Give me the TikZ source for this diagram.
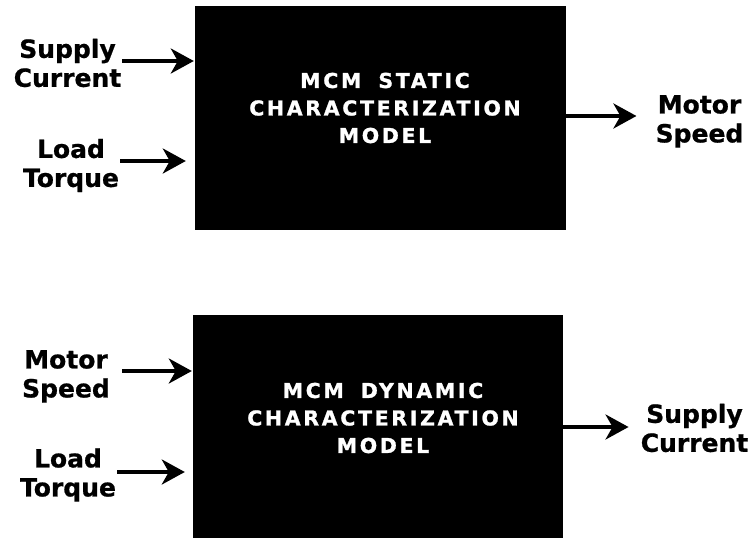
\documentclass[tikz,border=0pt]{standalone}
\usepackage{fontspec}
\setmainfont{DejaVu Sans}
\newfontfamily\boxfont[LetterSpace=13,FakeBold=1.2]{DejaVu Sans Bold}
\newfontfamily\labfont[FakeBold=0.8]{DejaVu Sans Bold}
\usetikzlibrary{arrows.meta}
\tikzset{
  blackbox/.style={fill=black, draw=none, inner sep=0pt},
  boxtext/.style={text=white, align=center, inner sep=0pt,
    font=\boxfont\fontsize{20.5}{27.5}\selectfont},
  iolabel/.style={text=black, align=center, inner sep=0pt,
    font=\labfont\fontsize{25}{29}\selectfont},
  arr/.style={line width=3.6pt, -{Stealth[length=23pt,width=25pt,inset=7pt]}},
}
\begin{document}
\begin{tikzpicture}[x=1pt,y=-1pt]
\useasboundingbox (0,0) rectangle (750,538);
\begin{scope}
\clip (0,0) rectangle (750,538);
% top block
\node[blackbox, minimum width=371pt, minimum height=224pt] (b1) at (380.5,118) {};
\node[boxtext] (t1) at (385,108) {MCM\hspace{17pt}STATIC\\CHARACTERIZATION\\MODEL};
\node[iolabel] (sc1) at (67.5,63) {Supply\\Current};
\node[iolabel] (lt1) at (71,165.5) {Load\\Torque};
\node[iolabel] (ms1) at (699.5,121.4) {Motor\\Speed};
% bottom block
\node[blackbox, minimum width=370pt, minimum height=250pt] (b2) at (378,440) {};
\node[boxtext] (t2) at (383,418) {MCM\hspace{17pt}DYNAMIC\\CHARACTERIZATION\\MODEL};
\node[iolabel] (ms2) at (66,376.4) {Motor\\Speed};
\node[iolabel] (lt2) at (68,475) {Load\\Torque};
\node[iolabel] (sc2) at (694.5,428) {Supply\\Current};
\end{scope}
% top arrows
\draw[arr, shorten <=1pt, shorten >=1pt] ([yshift=2pt]sc1.east) -- ([yshift=2pt]sc1.east -| b1.west);
\draw[arr, shorten <=1pt, shorten >=9pt] ([yshift=4.5pt]lt1.east) -- ([yshift=4.5pt]lt1.east -| b1.west);
\draw[arr, shorten >=19pt] ([yshift=5.4pt]ms1.west -| b1.east) -- ([yshift=5.4pt]ms1.west);
% bottom arrows
\draw[arr, shorten <=12pt, shorten >=1pt] ([yshift=5.4pt]ms2.east) -- ([yshift=5.4pt]ms2.east -| b2.west);
\draw[arr, shorten <=1pt, shorten >=8pt] ([yshift=3pt]lt2.east) -- ([yshift=3pt]lt2.east -| b2.west);
\draw[arr, shorten >=12pt] ([yshift=1pt]sc2.west -| b2.east) -- ([yshift=1pt]sc2.west);
\end{tikzpicture}
\end{document}
